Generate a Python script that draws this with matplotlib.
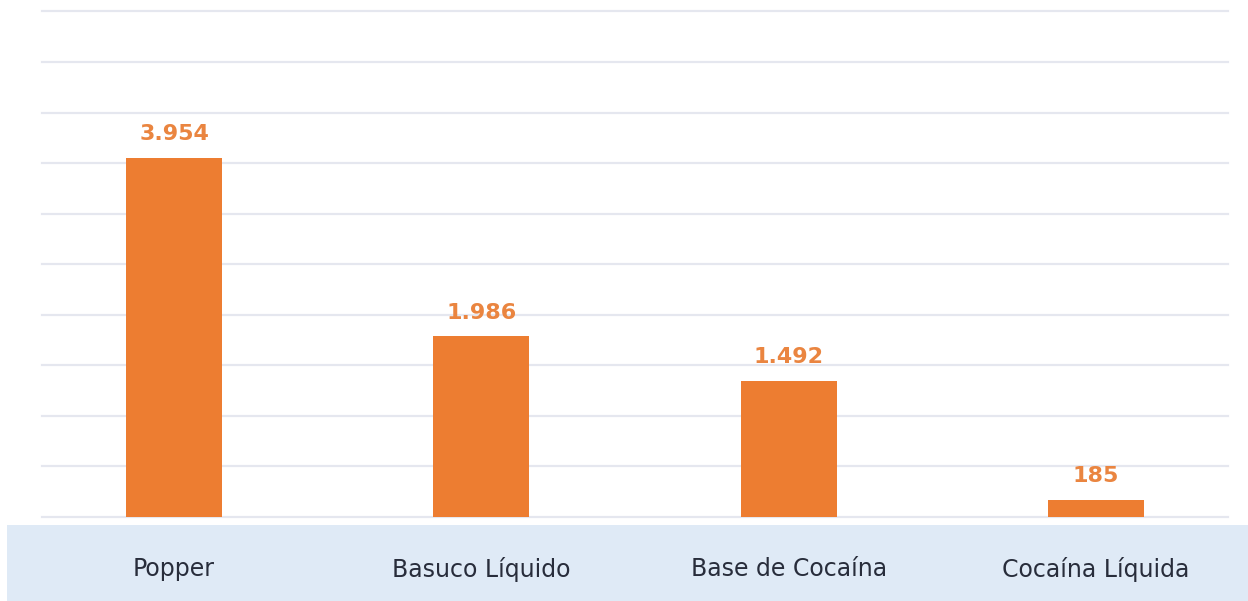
import matplotlib
matplotlib.use("Agg")
import matplotlib.pyplot as plt
from matplotlib.patches import Rectangle
import numpy as np

categories = ["Popper", "Basuco Líquido", "Base de Cocaína", "Cocaína Líquida"]
values = [3954, 1986, 1492, 185]
value_labels = ["3.954", "1.986", "1.492", "185"]

BAR_COLOR = "#ED7D31"
LABEL_COLOR = "#EA8540"
TEXT_COLOR = "#282D3B"
GRID_COLOR = "#E5E7EF"
BAND_COLOR = "#DFEAF6"

plt.rcParams["font.family"] = ["DejaVu Sans"]

W, H = 1248, 601
fig = plt.figure(figsize=(W / 100, H / 100), dpi=100)
fig.patch.set_facecolor("white")

# light band behind the category names
fig.patches.append(Rectangle((7 / W, 0), 1 - 7 / W, (H - 525) / H,
                             transform=fig.transFigure, facecolor=BAND_COLOR,
                             edgecolor="none", zorder=-5))

ax = fig.add_axes([42 / W, (H - 516.5) / H, (1228 - 42) / W, (516.5 - 11.5) / H])
ax.set_facecolor("none")
ax.set_zorder(1)

ymax = 5570
step = ymax / 10
x = np.arange(len(categories))
ax.bar(x, values, width=0.3125, color=BAR_COLOR, zorder=3)

ax.set_xlim(-0.43, len(categories) - 1 + 0.43)
ax.set_ylim(0, ymax)
ax.set_yticks([i * step for i in range(11)])
ax.yaxis.grid(True, color=GRID_COLOR, linewidth=1.6, zorder=0)
for gl in ax.get_ygridlines():
    gl.set_clip_on(False)
ax.set_axisbelow(True)
ax.tick_params(axis="both", length=0, labelleft=False, labelbottom=False)
for s in ax.spines.values():
    s.set_visible(False)

for xi, v, lab in zip(x, values, value_labels):
    ax.annotate(lab, (xi, v), xytext=(0, 10), textcoords="offset points",
                ha="center", va="bottom", fontsize=16, fontweight="bold",
                color=LABEL_COLOR, zorder=4)

for xi, cat in zip(x, categories):
    ax.text(xi, -52.5 / 505, cat, transform=ax.get_xaxis_transform(),
            ha="center", va="center", fontsize=17, color=TEXT_COLOR,
            clip_on=False)

fig.savefig("out.png", dpi=100, facecolor="white")
